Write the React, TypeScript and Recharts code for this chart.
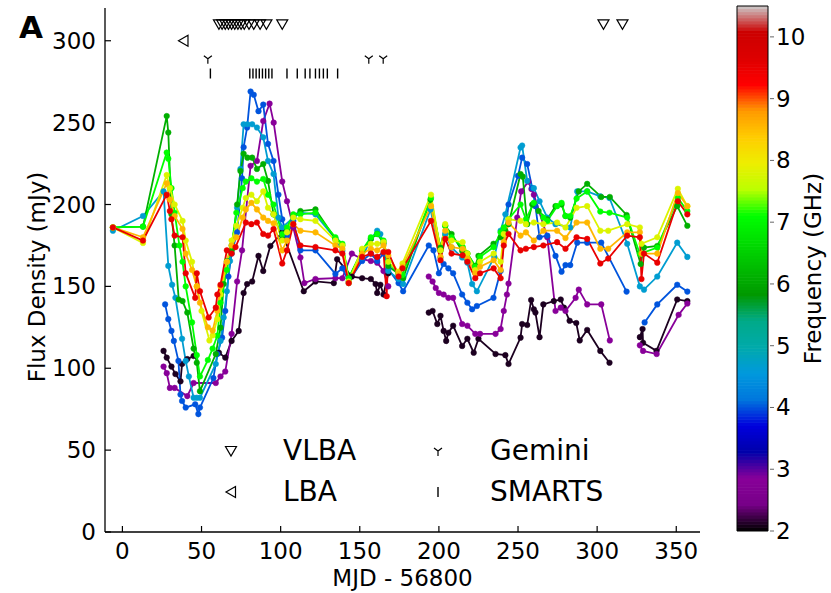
import { ComposedChart, Line, Scatter, XAxis, YAxis, ReferenceArea, Label } from 'recharts'

// flux density light curves, one list per observing frequency: [MJD - 56800, mJy]
// a null value marks a gap in the monitoring
type Pt = [number, number | null]

const f2_1: Pt[] = [
  [26, 110.6], [28, 106.5], [31, 101], [33.5, 96.5], [36.7, 92], [37.7, 102.6], [41, 105.6], [45, 107.5],
  [53, null], [61, 109.5], [65, 106.5], [69, 116.7], [73.5, 122.8], [76.6, 146], [78.8, 151.4], [82, 153], [86, 168.6],
  [89, 159.4], [93.5, 174.7], [101, 183], [114.6, 147], [122, 153], [133.6, 152], [135.7, 166.6], [145, 156],
  [151.5, 155], [157, 154.5], [160, 151.4], [161, 146], [163, 151], [165, 145], [168, 158], [180, null],
  [193.6, 134], [196, 135], [199, 127], [201, 132], [203, 122.8], [204.6, 116.7], [206, 121.7], [209, 126],
  [214.7, 113.6], [218, 118], [222, 109.5], [225, 118], [235.8, 108.7], [242, 108], [244, 102.6], [251.6, 118.7],
  [252.6, 127], [255.8, 126.4], [258.3, 141.7], [260, 136], [261, 134], [263.6, 119], [266, 139], [272.6, 141],
  [277, 142], [279, 137], [282.6, 129], [286.8, 127.6], [289, 117], [293.7, 123.4], [302, 110.6], [307.8, 103.4],
  [318, null], [327, 119], [328.7, 124], [329, 115.6], [337.5, 110.6], [350.6, 142], [357, 141],
]

const f2_85: Pt[] = [
  [26, 101], [28, 97], [30, 88], [33, 88], [41, 83], [45, 91], [59, 91], [62, 95], [65, 98], [69, 121],
  [72.5, 153], [75.6, 172], [81, 223.6], [85, 226.6], [89, 251], [93, 261.6], [95.6, 250], [101, 214],
  [104, 202], [108, 186], [112.5, 167.6], [115, 152], [122, 154.5], [134.6, 155], [139, 155], [145, 170],
  [151.5, 166.6], [157, 165.5], [161, 164.5], [165, 159.4], [168, 150], [180, null],
  [193.6, 156], [196, 153], [198, 149], [200, 146], [203, 145], [206, 143], [209, 143], [214.7, 127], [218, 126],
  [223, 121], [226, 121], [235.8, 121], [239, 124], [241, 135], [243, 145], [244, 151.7], [249.5, 192],
  [252, 208], [256.5, 214], [258.5, 209.5], [260, 206], [268.5, 180], [273.7, 135], [277, 137], [280, 135],
  [286.4, 143], [288.4, 148], [293.7, 139], [302.6, 139], [308, 117], [318, null],
  [327, 114], [329, 110.6], [337.6, 108.7], [351.5, 132.6], [357, 139.5],
]

const f4_0: Pt[] = [
  [27, 139], [29, 130], [31, 122.8], [32.5, 116.7], [35.4, 104.5], [36.7, 84], [37.7, 80], [40, 76], [46, 78],
  [48, 72], [49, 76], [57.5, 94], [60, 108.7], [63, 118.7], [65, 135], [67, 156], [69, 170], [72.5, 183],
  [75.6, 216], [76.6, 235], [78.8, 247], [81, 269], [83, 267], [86, 257], [89, 261], [92, 237], [95.5, 226.6],
  [98.6, 206], [101, 191], [104, 181], [108, 190], [112.5, 172], [122, 172], [134.6, 157.6], [139, 161],
  [143, 153], [151.5, 165.5], [157, 170], [161, 165.5], [165, 170], [168, 160.6], [174.5, 152], [177.4, 147],
  [193.6, 175], [196.6, 172], [200, 158], [203, 163.7], [206, 161], [209, 158], [214.7, 145], [218, 140],
  [221, 136], [224, 138], [234.5, 143], [239, 159.4], [244, 200], [250, 217.5], [252.6, 228.6], [255.8, 224.7],
  [259, 210], [261, 199], [263.6, 180], [268.5, 181], [273.7, 168.6], [277.5, 159], [280, 163], [283, 163],
  [287.4, 176.7], [293.7, 176.7], [302.6, 176.7], [318.6, 146.8], [324, null],
  [330, 128], [338, 139], [350.6, 151], [357, 146.8],
]

const f4_65: Pt[] = [
  [-6, 184], [13, 193], [26, 208], [29, 162.5], [31.4, 151], [33.5, 143], [37.7, 118], [40, 104.5], [42, 95],
  [45, 82], [47, 82], [49, 82], [59, 102.6], [62, 116.7], [64, 131], [66, 147], [68, 165.5], [72.5, 198],
  [74.6, 221.7], [76.6, 249], [79, 249], [82, 249], [85, 247], [89, 241], [92, 226.6], [95.5, 218.6],
  [98.6, 192], [101, 186], [108, 192], [112.5, 195], [122, 194], [134.6, 179], [139, 171.7], [143, 152],
  [151.5, 167.6], [157, 179], [161, 184], [163, 182], [165, 176], [168, 159.4], [174.5, 154.5], [177.4, 151.4],
  [194.7, 197], [201, 167.6], [204, 182], [208, 173.7], [214.7, 167.6], [218, 164.5], [221, 151.4], [224, 147],
  [235, 168], [239, 184], [242, 194], [251.6, 234.8], [252.6, 236], [255.8, 214.4], [260, 210], [263.6, 202],
  [268.5, 192], [273.7, 188], [283, 186], [287.4, 208], [293.7, 208], [302, 205], [307.8, 204], [319, 176],
  [327, 150], [329.6, 148], [338, 156], [350.6, 176.7], [357, 168],
]

const f6_1: Pt[] = [
  [-6, 186], [13, 186.5], [28, 254], [29, 244], [31, 194], [33, 175], [35.6, 142], [38, 141], [41, 134],
  [45, 112], [47, 103.4], [49, 86], [59, 108.7], [62, 124.8], [64, 151.4], [66, 165.5], [69, 171.7],
  [72.5, 200], [74.6, 220.5], [76.6, 231], [79, 228.6], [82, 228.6], [85, 221.7], [89, 224.7], [92, 214.4],
  [95.5, 194], [101, 179], [104, 184], [108, 193], [112.5, 196], [122, 197], [134.6, 179], [139, 175],
  [143, 155], [151.5, 171.7], [157, 179], [161, 182], [165, 176.7], [168, 162.5], [174.5, 157.6], [177.4, 155],
  [194.7, 203], [201, 173.7], [204, 187], [208, 182], [214.7, 171.7], [218, 170], [223, 162.5], [225, 168.6],
  [234.5, 176], [239, 180], [242, 184], [244, 188], [251.6, 218.6], [253, 217], [255.8, 188], [259, 200],
  [263, 196], [268.5, 191], [273.7, 199], [277.5, 200], [280, 193], [283, 192], [288.4, 208], [293.7, 212.6],
  [302.6, 204.6], [308, 204.6], [318.6, 193.6], [327.5, 163.7], [329.6, 173.7], [338, 174.7], [350.6, 199],
  [357, 187],
]

const f7_1: Pt[] = [
  [-6, 186], [13, 186.5], [28, 231.7], [29, 228], [31, 210], [33, 195], [36, 175], [38, 165], [40, 150],
  [44, 128], [47, 108], [49, 95], [54, 105], [57, 112], [60, 120], [62, 140], [66, 160], [69, 175], [72, 195],
  [76, 210], [78, 214], [81.5, 216], [85, 214], [89, 215.6], [92, 206], [95.5, 200], [101, 182], [104, 186],
  [108, 194], [112.5, 194], [122, 195], [134.6, 180], [139, 176], [143, 155], [151.5, 172], [157, 180],
  [161, 182], [165, 178], [168, 165], [174.5, 158], [177, 157], [195, 204], [201, 172], [204, 187], [208, 180],
  [215, 174], [218, 170], [223, 162], [226, 168], [234.6, 174], [239, 183], [241, 186], [244, 191],
  [251.6, 200], [255, 191], [260, 201], [266, 192], [268.5, 190], [274.7, 199], [277.5, 201], [280, 193],
  [283, 193], [287, 203.6], [293.7, 208], [302, 195.7], [307.8, 195], [319, 192], [327, 169.8], [338, 173.7],
  [351, 204], [357, 196],
]

const f7_8: Pt[] = [
  [-6, 186], [13, 176.5], [28, 218], [30, 210], [33, 200], [38, 190], [40, 178], [44, 165], [47, 150],
  [50, 135], [55, 117], [57, 120], [60, 130], [62, 145], [66, 165], [69, 178], [72, 187], [76, 198], [78, 204],
  [81.5, 206], [85, 202], [89, 208], [92, 198], [95.5, 194], [101, 178], [104, 183], [108, 192], [112.5, 191],
  [122, 190], [134.6, 178], [139, 175], [143, 153], [151.5, 173], [157, 176], [161, 176], [165, 177],
  [168, 165], [174.5, 159], [177, 164], [195, 206], [201, 172], [204, 188], [208, 178], [215, 177], [218, 170],
  [223, 160], [226, 165], [234.6, 170], [239, 165], [241, 182], [244, 191], [251.6, 190], [255, 188],
  [260, 189], [266, 188], [274.7, 189], [280, 186], [287, 198], [293.7, 199], [302, 184], [307, 184],
  [319, 188], [327, 186], [328, 176], [338, 180], [351, 209.6], [357, 199],
]

const f8_55: Pt[] = [
  [-6, 186], [13, 180], [28, 213], [30, 203], [33, 193], [38, 185], [40, 170], [44, 160], [47, 150],
  [49, 140], [54, 125], [57, 123], [60, 135], [62, 150], [66, 165], [69, 175], [72, 180], [76, 192],
  [78, 197], [81.5, 201], [85, 197], [89, 192], [92, 190], [95.5, 188.5], [101, 172], [104, 178], [108, 188],
  [112.5, 184], [122, 183], [134.6, 175], [139, 173], [143, 152], [151.5, 170], [157, 173], [161, 172],
  [165, 175], [168, 169], [174.5, 158], [177, 162], [195, 199], [201, 168], [204, 184], [208, 174], [215, 173],
  [218, 167], [223, 158], [226, 162], [234.6, 166], [239, 160], [241, 177], [244, 189], [251.6, 181],
  [255, 183], [260, 178], [266, 184], [274.7, 184], [280, 179.5], [287, 189], [293.7, 189], [302, 173],
  [307, 173], [319, 183], [327, 183], [328, 170], [338, 170], [351, 207], [357, 199],
]

const f9_5: Pt[] = [
  [-6, 186], [13, 178], [28, 206], [30, 196], [31, 191], [33, 181], [38, 180], [40, 158], [46, 143], [47, 158],
  [49, 147], [54.5, 131], [59, 137], [60, 145], [62, 151], [66, 172], [69, 170], [71.5, 174], [78, 189],
  [81.5, 188], [85, 189], [89, 182], [92, 181], [95.5, 185], [101, 164], [104, 172], [108, 188], [112.5, 175],
  [122, 174], [134.6, 172], [139, 170], [143, 152], [151.5, 168], [157, 170], [161, 168], [165, 171],
  [167, 144], [168, 171], [174.5, 156], [177, 161], [195, 190], [201, 166], [204, 179], [208, 170], [215, 169],
  [218, 165], [223, 155], [226, 158], [234.6, 161], [239, 155], [241, 175], [244, 182], [251.6, 172],
  [255, 173], [260, 174], [266, 175], [274.7, 177], [280, 173], [287, 180], [293.7, 179], [302, 164],
  [307, 167], [319, 181], [327, 180], [328, 154.5], [329.6, 170], [338, 164.5], [351, 202], [357, 194],
]

const SERIES = [
  { freq: 2.1, pts: f2_1 },
  { freq: 2.85, pts: f2_85 },
  { freq: 4.0, pts: f4_0 },
  { freq: 4.65, pts: f4_65 },
  { freq: 6.1, pts: f6_1 },
  { freq: 7.1, pts: f7_1 },
  { freq: 7.8, pts: f7_8 },
  { freq: 8.55, pts: f8_55 },
  { freq: 9.5, pts: f9_5 },
]

// epochs of the other observatories (MJD - 56800)
const vlbaDays = [61, 63, 65, 67, 69, 71, 73, 75, 77, 80, 83, 87, 91, 101, 304, 316]
const lbaDays = [38.6]
const geminiDays = [54, 155.7, 164.8]
const smartsDays = [55.6, 80.5, 82.5, 84.5, 86.5, 88.5, 90.5, 92.5, 94.5, 104, 110.5, 115.5, 118.5, 122, 124.5, 127, 129.5, 136]

const X_TICKS = [0, 50, 100, 150, 200, 250, 300, 350]
const Y_TICKS = [0, 50, 100, 150, 200, 250, 300]
const CB_TICKS = [2, 3, 4, 5, 6, 7, 8, 9, 10]

// nipy_spectral colour map
const NS_R = [0, 0.4667, 0.5333, 0, 0, 0, 0, 0, 0, 0, 0, 0, 0, 0.7333, 0.9333, 1, 1, 1, 0.8667, 0.8, 0.8]
const NS_G = [0, 0, 0, 0, 0, 0.4667, 0.6, 0.6667, 0.6667, 0.6, 0.7333, 0.8667, 1, 1, 0.9333, 0.8, 0.6, 0, 0, 0, 0.8]
const NS_B = [0, 0.5333, 0.6, 0.6667, 0.8667, 0.8667, 0.8667, 0.6667, 0.5333, 0, 0, 0, 0, 0, 0, 0, 0, 0, 0, 0, 0.8]
function nipy(t: number) {
  const s = Math.min(Math.max(t, 0), 1) * 20
  const i = Math.min(Math.floor(s), 19)
  const f = s - i
  const c = (a: number[]) => Math.round((a[i] + (a[i + 1] - a[i]) * f) * 255)
  return `rgb(${c(NS_R)},${c(NS_G)},${c(NS_B)})`
}
const F_MIN = 2
const F_MAX = 10.5
const freqColor = (f: number) => nipy((f - F_MIN) / (F_MAX - F_MIN))

const CB_STEPS: number[] = []
for (let f = F_MIN; f < F_MAX - 1e-9; f += 0.05) CB_STEPS.push(f)

const FONT = '"DejaVu Sans", Verdana, sans-serif'

// main plot geometry
const W = 720
const H = 593
const MARGIN = { top: 8, right: 20, bottom: 0, left: 45 }
const Y_W = 60
const X_H = 61
const PL = MARGIN.left + Y_W
const PT = MARGIN.top
const PR = W - MARGIN.right
const PB = H - X_H

const tickText = { fontFamily: FONT, fontSize: 23, fill: '#000' }

function BottomTick({ x, payload }: any) {
  return (
    <g>
      <line x1={x} x2={x} y1={PB} y2={PB - 6} stroke="#000" strokeWidth={1.2} />
      <text x={x} y={PB + 27} textAnchor="middle" {...tickText}>{payload.value}</text>
    </g>
  )
}
function TopTick({ x }: any) {
  return <line x1={x} x2={x} y1={PT} y2={PT + 6} stroke="#000" strokeWidth={1.2} />
}
function LeftTick({ y, payload }: any) {
  return (
    <g>
      <line x1={PL} x2={PL + 6} y1={y} y2={y} stroke="#000" strokeWidth={1.2} />
      <text x={PL - 9} y={y + 8} textAnchor="end" {...tickText}>{payload.value}</text>
    </g>
  )
}
function RightTick({ y }: any) {
  return <line x1={PR} x2={PR - 6} y1={y} y2={y} stroke="#000" strokeWidth={1.2} />
}

const VlbaShape = ({ cx, cy }: any) => (
  <path d={`M${cx - 5.5},${cy - 4.5} L${cx + 5.5},${cy - 4.5} L${cx},${cy + 5} Z`} fill="none" stroke="#000" strokeWidth={1.2} />
)
const LbaShape = ({ cx, cy }: any) => (
  <path d={`M${cx + 4.5},${cy - 5.5} L${cx + 4.5},${cy + 5.5} L${cx - 5},${cy} Z`} fill="none" stroke="#000" strokeWidth={1.2} />
)
const GeminiShape = ({ cx, cy }: any) => (
  <path d={`M${cx},${cy} L${cx},${cy + 5} M${cx},${cy} L${cx - 4},${cy - 3} M${cx},${cy} L${cx + 4},${cy - 3}`} fill="none" stroke="#000" strokeWidth={1.2} />
)
const SmartsShape = ({ cx, cy }: any) => (
  <line x1={cx} x2={cx} y1={cy - 5} y2={cy + 5} stroke="#000" strokeWidth={1.4} />
)

const markers = (days: number[], level: number) => days.map((x) => ({ x, y: level }))

function LegendItem({ shape, label }: { shape: any; label: string }) {
  const S = shape
  return (
    <div style={{ display: 'flex', alignItems: 'center', height: 41, whiteSpace: 'nowrap' }}>
      <svg width={20} height={20} style={{ marginRight: 42, flexShrink: 0 }}>
        <S cx={10} cy={10} />
      </svg>
      <span>{label}</span>
    </div>
  )
}

export default function App() {
  return (
    <div style={{ position: 'absolute', left: 0, top: 0, width: 831, height: 593, background: '#fff', fontFamily: FONT }}>
      <div style={{ position: 'absolute', left: 19, top: 9, fontSize: 31, fontWeight: 'bold' }}>A</div>
      <ComposedChart width={W} height={H} margin={MARGIN}>
        <XAxis
          dataKey="x" type="number" domain={[-11, 365]} ticks={X_TICKS} allowDataOverflow
          height={X_H} tick={BottomTick} tickLine={false} stroke="#000" strokeWidth={1.3}
          label={<Label content={({ viewBox }: any) => (
            <text x={viewBox.x + viewBox.width / 2} y={viewBox.y + 54} textAnchor="middle" {...tickText}>MJD - 56800</text>
          )} />}
        />
        <XAxis
          xAxisId="top" orientation="top" dataKey="x" type="number" domain={[-11, 365]} ticks={X_TICKS}
          height={0} tick={TopTick} tickLine={false} stroke="#000" strokeWidth={1.3}
        />
        <YAxis
          dataKey="y" type="number" domain={[0, 320]} ticks={Y_TICKS} allowDataOverflow
          width={Y_W} tick={LeftTick} tickLine={false} stroke="#000" strokeWidth={1.3}
          label={<Label content={({ viewBox }: any) => {
            const cx = viewBox.x - 8
            const cy = viewBox.y + viewBox.height / 2 + 7
            return (
              <text x={cx} y={cy} transform={`rotate(-90 ${cx} ${cy})`} textAnchor="middle" dominantBaseline="central" {...tickText}>
                Flux Density (mJy)
              </text>
            )
          }} />}
        />
        <YAxis
          yAxisId="right" orientation="right" type="number" domain={[0, 320]} ticks={Y_TICKS}
          width={0} tick={RightTick} tickLine={false} stroke="#000" strokeWidth={1.3}
        />
        {SERIES.map((s) => {
          const c = freqColor(s.freq)
          return (
            <Line
              key={s.freq}
              data={s.pts.map(([x, y]) => ({ x, y }))}
              dataKey="y"
              stroke={c}
              strokeWidth={1.8}
              dot={{ r: 2.8, fill: c, stroke: c, strokeWidth: 0.5 }}
              isAnimationActive={false}
            />
          )
        })}
        <Scatter data={markers(vlbaDays, 310)} dataKey="y" shape={VlbaShape} isAnimationActive={false} />
        <Scatter data={markers(lbaDays, 300)} dataKey="y" shape={LbaShape} isAnimationActive={false} />
        <Scatter data={markers(geminiDays, 289)} dataKey="y" shape={GeminiShape} isAnimationActive={false} />
        <Scatter data={markers(smartsDays, 280)} dataKey="y" shape={SmartsShape} isAnimationActive={false} />
      </ComposedChart>

      <div style={{ position: 'absolute', left: 221, top: 430, display: 'grid', gridTemplateColumns: '207px 190px', fontSize: 28, color: '#000' }}>
        <LegendItem shape={VlbaShape} label="VLBA" />
        <LegendItem shape={GeminiShape} label="Gemini" />
        <LegendItem shape={LbaShape} label="LBA" />
        <LegendItem shape={SmartsShape} label="SMARTS" />
      </div>

      <div style={{ position: 'absolute', left: W, top: 0 }}>
        <ComposedChart width={111} height={593} data={[{ x: 0 }, { x: 1 }]} margin={{ top: 6, right: 0, bottom: 62, left: 17 }}>
          <XAxis dataKey="x" type="number" domain={[0, 1]} hide />
          <YAxis
            type="number" domain={[F_MIN, F_MAX]} ticks={CB_TICKS} orientation="right" width={63}
            axisLine={false} tickLine={false} allowDataOverflow
            tick={({ x, y, payload }: any) => (
              <g>
                <line x1={x - 6} x2={x - 2} y1={y} y2={y} stroke="#000" strokeWidth={1} opacity={0.6} />
                <text x={x} y={y + 8} textAnchor="start" {...tickText}>{payload.value}</text>
              </g>
            )}
            label={<Label content={({ viewBox }: any) => {
              const cx = viewBox.x + 45
              const cy = viewBox.y + viewBox.height / 2
              return (
                <text x={cx} y={cy} transform={`rotate(-90 ${cx} ${cy})`} textAnchor="middle" dominantBaseline="central" {...tickText}>
                  Frequency (GHz)
                </text>
              )
            }} />}
          />
          {CB_STEPS.map((f) => (
            <ReferenceArea key={f} y1={f} y2={Math.min(f + 0.06, F_MAX)} fill={freqColor(f + 0.025)} fillOpacity={1} stroke="none" ifOverflow="visible" />
          ))}
          <ReferenceArea y1={F_MIN} y2={F_MAX} fill="none" stroke="#000" strokeWidth={1} ifOverflow="visible" />
        </ComposedChart>
      </div>
    </div>
  )
}
